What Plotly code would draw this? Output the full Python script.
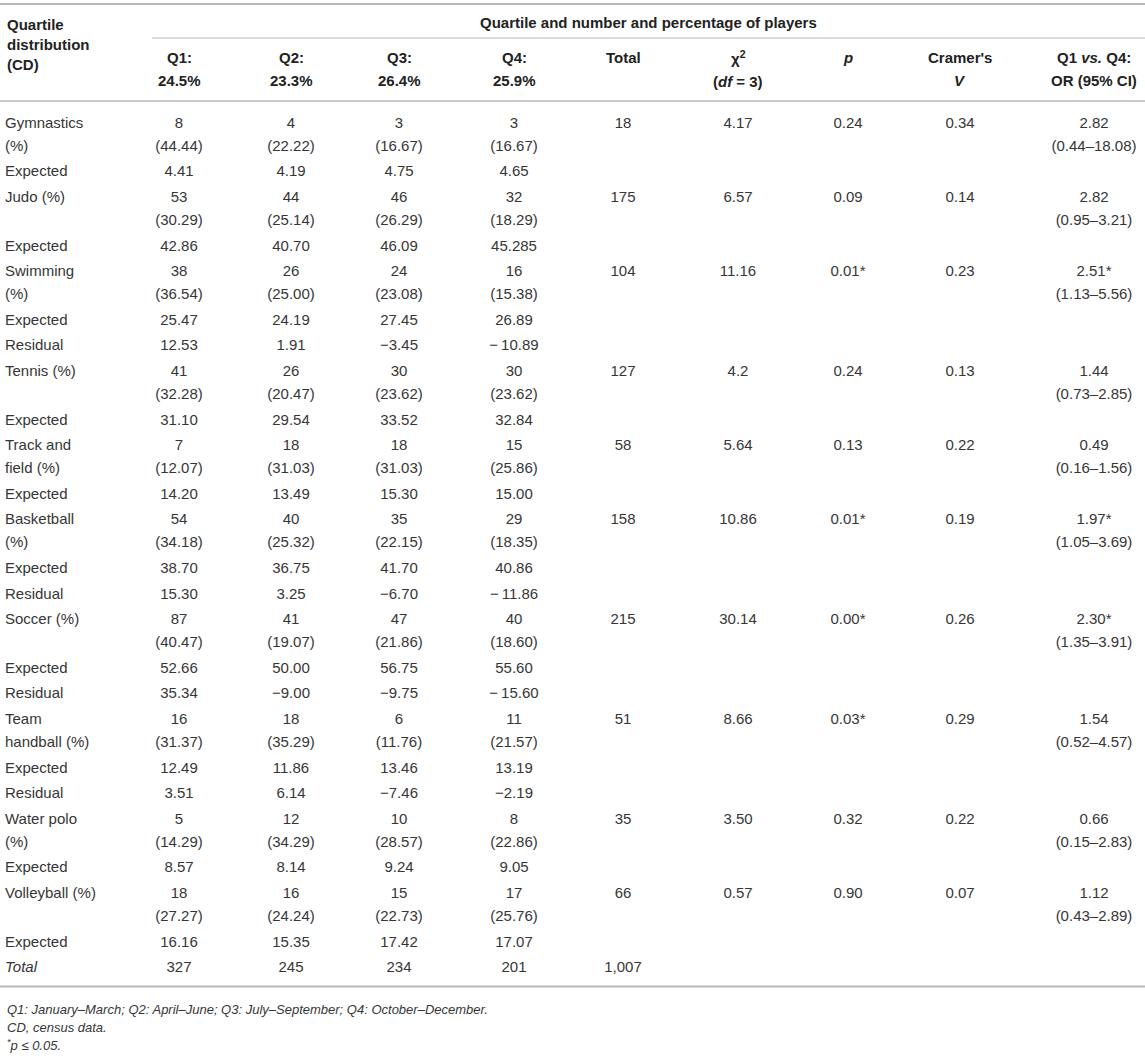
import plotly.graph_objects as go

W, H = 1145, 1061
FONT = "Liberation Sans, Arial, sans-serif"
TXT = "#363636"
HEAD = "#222222"
RULE = "#b8b8b8"

# ---------------------------------------------------------------- data
sports = ["Gymnastics<br>(%)", "Judo (%)", "Swimming<br>(%)", "Tennis (%)",
          "Track and<br>field (%)", "Basketball<br>(%)", "Soccer (%)",
          "Team<br>handball (%)", "Water polo<br>(%)", "Volleyball (%)"]

quartiles = ["Q1:", "Q2:", "Q3:", "Q4:"]
quartile_share = ["24.5%", "23.3%", "26.4%", "25.9%"]

counts = [[8, 4, 3, 3], [53, 44, 46, 32], [38, 26, 24, 16], [41, 26, 30, 30],
          [7, 18, 18, 15], [54, 40, 35, 29], [87, 41, 47, 40], [16, 18, 6, 11],
          [5, 12, 10, 8], [18, 16, 15, 17]]

pcts = [["44.44", "22.22", "16.67", "16.67"], ["30.29", "25.14", "26.29", "18.29"],
        ["36.54", "25.00", "23.08", "15.38"], ["32.28", "20.47", "23.62", "23.62"],
        ["12.07", "31.03", "31.03", "25.86"], ["34.18", "25.32", "22.15", "18.35"],
        ["40.47", "19.07", "21.86", "18.60"], ["31.37", "35.29", "11.76", "21.57"],
        ["14.29", "34.29", "28.57", "22.86"], ["27.27", "24.24", "22.73", "25.76"]]

expected = [["4.41", "4.19", "4.75", "4.65"], ["42.86", "40.70", "46.09", "45.285"],
            ["25.47", "24.19", "27.45", "26.89"], ["31.10", "29.54", "33.52", "32.84"],
            ["14.20", "13.49", "15.30", "15.00"], ["38.70", "36.75", "41.70", "40.86"],
            ["52.66", "50.00", "56.75", "55.60"], ["12.49", "11.86", "13.46", "13.19"],
            ["8.57", "8.14", "9.24", "9.05"], ["16.16", "15.35", "17.42", "17.07"]]

residual = [None, None, ["12.53", "1.91", "−3.45", "−\u200910.89"], None, None,
            ["15.30", "3.25", "−6.70", "−\u200911.86"],
            ["35.34", "−9.00", "−9.75", "−\u200915.60"],
            ["3.51", "6.14", "−7.46", "−2.19"], None, None]

totals = ["18", "175", "104", "127", "58", "158", "215", "51", "35", "66"]
chi2 = ["4.17", "6.57", "11.16", "4.2", "5.64", "10.86", "30.14", "8.66", "3.50", "0.57"]
pvals = ["0.24", "0.09", "0.01*", "0.24", "0.13", "0.01*", "0.00*", "0.03*", "0.32", "0.90"]
cramer_v = ["0.34", "0.14", "0.23", "0.13", "0.22", "0.19", "0.26", "0.29", "0.22", "0.07"]
odds = ["2.82", "2.82", "2.51*", "1.44", "0.49", "1.97*", "2.30*", "1.54", "0.66", "1.12"]
odds_ci = ["0.44–18.08", "0.95–3.21", "1.13–5.56", "0.73–2.85", "0.16–1.56",
           "1.05–3.69", "1.35–3.91", "0.52–4.57", "0.15–2.83", "0.43–2.89"]

col_totals = ["327", "245", "234", "201"]
grand_total = "1,007"

footnotes = ["Q1: January–March; Q2: April–June; Q3: July–September; Q4: October–December.",
             "CD, census data.",
             "<sup>*</sup>p ≤ 0.05."]

# ---------------------------------------------------------------- layout of the grid
LABEL_X = 5
QX = [179, 291, 399, 514]
X_TOT, X_CHI, X_P, X_V, X_OR = 623, 738, 848, 960, 1094
Y0, LINE, GAP = 124, 23, 25.6

lx, ly, lt = [], [], []   # left column
cx, cy, ct = [], [], []   # centred cells


def cell(x, y, t):
    cx.append(x); cy.append(y); ct.append(t)


def label(y, t):
    lx.append(LABEL_X); ly.append(y); lt.append(t)


y = Y0
for i, sp in enumerate(sports):
    for k, part in enumerate(sp.split("<br>")):
        label(y + k * LINE, part)
    for j in range(4):
        cell(QX[j], y, str(counts[i][j]))
        cell(QX[j], y + LINE, f"({pcts[i][j]})")
    cell(X_TOT, y, totals[i])
    cell(X_CHI, y, chi2[i])
    cell(X_P, y, pvals[i])
    cell(X_V, y, cramer_v[i])
    cell(X_OR, y, odds[i])
    cell(X_OR, y + LINE, f"({odds_ci[i]})")
    y += LINE + GAP
    label(y, "Expected")
    for j in range(4):
        cell(QX[j], y, expected[i][j])
    y += GAP
    if residual[i]:
        label(y, "Residual")
        for j in range(4):
            cell(QX[j], y, residual[i][j])
        y += GAP

label(y, "<i>Total</i>")
for j in range(4):
    cell(QX[j], y, col_totals[j])
cell(X_TOT, y, grand_total)
y_bottom = y + 18

fig = go.Figure()
fig.add_trace(go.Scatter(x=lx, y=ly, text=lt, mode="text", textposition="middle right",
                         textfont=dict(family=FONT, size=15, color=TXT), hoverinfo="skip"))
fig.add_trace(go.Scatter(x=cx, y=cy, text=ct, mode="text", textposition="middle center",
                         textfont=dict(family=FONT, size=15, color=TXT), hoverinfo="skip"))

# ---------------------------------------------------------------- header
head = [(LABEL_X, 24, "<b>Quartile</b>", "left"),
        (LABEL_X, 44, "<b>distribution</b>", "left"),
        (LABEL_X, 64, "<b>(CD)</b>", "left"),
        ((152 + W) / 2, 22, "<b>Quartile and number and percentage of players</b>", "center")]
for j in range(4):
    head.append((QX[j], 57, f"<b>{quartiles[j]}</b>", "center"))
    head.append((QX[j], 80, f"<b>{quartile_share[j]}</b>", "center"))
head += [(X_TOT, 57, "<b>Total</b>", "center"),
         (X_CHI, 57, "<b>χ<sup>2</sup></b>", "center"),
         (X_CHI, 81, "<b>(<i>df</i> = 3)</b>", "center"),
         (X_P, 57, "<b><i>p</i></b>", "center"),
         (X_V, 57, "<b>Cramer's</b>", "center"),
         (X_V, 80, "<b><i>V</i></b>", "center"),
         (X_OR, 57, "<b>Q1 <i>vs.</i> Q4:</b>", "center"),
         (X_OR, 80, "<b>OR (95% CI)</b>", "center")]

ann = []
for x, yy, t, al in head:
    ann.append(dict(x=x, y=yy, xref="x", yref="y", text=t, showarrow=False,
                    xanchor=al, yanchor="middle",
                    font=dict(family=FONT, size=15, color=HEAD)))
for k, t in enumerate(footnotes):
    ann.append(dict(x=LABEL_X, y=y_bottom + 23 + k * 18, xref="x", yref="y",
                    text=f"<i>{t}</i>", showarrow=False, xanchor="left", yanchor="middle",
                    font=dict(family=FONT, size=13, color=TXT)))

shapes = [dict(type="line", x0=0, x1=W, y0=4, y1=4, line=dict(color=RULE, width=2)),
          dict(type="line", x0=152, x1=W, y0=38, y1=38, line=dict(color=RULE, width=1.2)),
          dict(type="line", x0=0, x1=W, y0=101, y1=101, line=dict(color=RULE, width=1.5)),
          dict(type="line", x0=0, x1=W, y0=y_bottom, y1=y_bottom, line=dict(color=RULE, width=2))]
for s in shapes:
    s.update(xref="x", yref="y")

fig.update_layout(width=W, height=H, margin=dict(l=0, r=0, t=0, b=0),
                  paper_bgcolor="white", plot_bgcolor="white", showlegend=False,
                  xaxis=dict(range=[0, W], visible=False, fixedrange=True),
                  yaxis=dict(range=[H, 0], visible=False, fixedrange=True),
                  annotations=ann, shapes=shapes)

fig.write_html("out.html", config={"displayModeBar": False},
               post_script="document.body.style.margin='0';")
